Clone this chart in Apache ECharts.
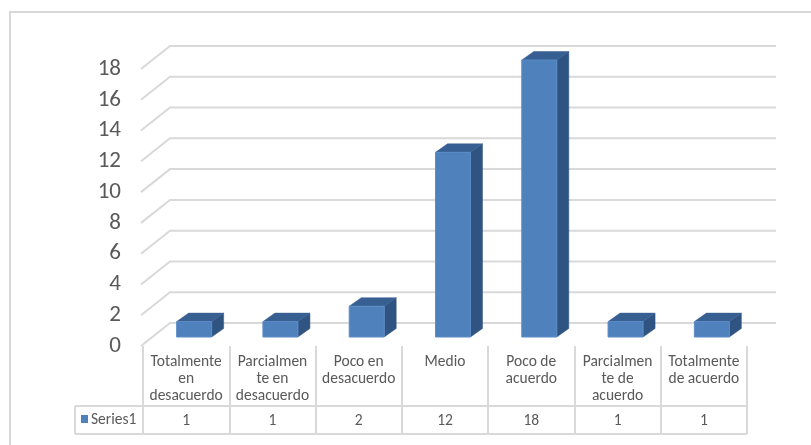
<!DOCTYPE html>
<html>
<head>
<meta charset="utf-8">
<script src="https://cdn.jsdelivr.net/npm/echarts@6/dist/echarts.min.js"></script>
<style>
  html, body { margin: 0; padding: 0; background: #fff; }
  #chart { width: 811px; height: 445px; }
</style>
</head>
<body>
<div id="chart"></div>
<script>
// Survey answers on a 7-point agreement scale
const categories = [
  'Totalmente\nen\ndesacuerdo',
  'Parcialmen\nte en\ndesacuerdo',
  'Poco en\ndesacuerdo',
  'Medio',
  'Poco de\nacuerdo',
  'Parcialmen\nte de\nacuerdo',
  'Totalmente\nde acuerdo'
];
const seriesName = 'Series1';
const values = [1, 1, 2, 12, 18, 1, 1];
const yTicks = [0, 2, 4, 6, 8, 10, 12, 14, 16, 18];

const FONT = 'Carlito, Lato, "Open Sans", sans-serif';
const GRID_COLOR = '#D9D9D9';
const TEXT_COLOR = '#595959';
const TABLE_FONT_SIZE = 15.5;

// perspective offsets: floor depth and bar depth
const WALL_DX = 29, WALL_DY = -23;
const BAR_SHIFT_X = 8, BAR_SHIFT_Y = -9;
const BAR_W = 35, BAR_DX = 12, BAR_DY = -8.5;

const chart = echarts.init(document.getElementById('chart'), null, { renderer: 'canvas' });

// back-wall gridlines with the diagonal running to the front edge
function renderWall(params, api) {
  const cs = params.coordSys;
  const y = api.coord([0, api.value(1)])[1];
  const x0 = cs.x - 2;
  return {
    type: 'polyline',
    shape: { points: [[x0, y], [x0 + WALL_DX, y + WALL_DY], [cs.x + cs.width + WALL_DX, y + WALL_DY]] },
    style: { stroke: GRID_COLOR, lineWidth: 2, fill: null },
    silent: true
  };
}

// 3D-looking columns plus the value row of the data table
function renderBar(params, api) {
  const cs = params.coordSys;
  const idx = api.value(0);
  const top = api.coord([idx, api.value(1)]);
  const base = api.coord([idx, 0]);
  const cx = top[0] + BAR_SHIFT_X;
  const x = cx - BAR_W / 2;
  const yt = top[1] + BAR_SHIFT_Y;
  const yb = base[1] + BAR_SHIFT_Y;
  const children = [
    { type: 'polygon', shape: { points: [[x + BAR_W, yt], [x + BAR_W + BAR_DX, yt + BAR_DY], [x + BAR_W + BAR_DX, yb + BAR_DY], [x + BAR_W, yb]] },
      style: { fill: '#2F5482', stroke: '#2F5482', lineWidth: 0.5 } },
    { type: 'polygon', shape: { points: [[x, yt], [x + BAR_W, yt], [x + BAR_W + BAR_DX, yt + BAR_DY], [x + BAR_DX, yt + BAR_DY]] },
      style: { fill: '#385F92', stroke: '#385F92', lineWidth: 0.5 } },
    { type: 'rect', shape: { x: x, y: yt, width: BAR_W, height: yb - yt },
      style: { fill: '#4F81BD', stroke: '#5B8CC6', lineWidth: 1 } },
    { type: 'text', style: { text: String(api.value(1)), x: base[0], y: base[1] + 75, align: 'center', verticalAlign: 'middle',
      fill: TEXT_COLOR, font: TABLE_FONT_SIZE + 'px ' + FONT } }
  ];
  if (idx === 0) {
    // table frame: row separator, bottom edge and the row header cell with legend key
    const left = cs.x - 68;
    const right = cs.x + cs.width;
    const r1 = base[1] + 60, r2 = base[1] + 88;
    children.push(
      { type: 'line', shape: { x1: left, y1: r1, x2: right, y2: r1 }, style: { stroke: GRID_COLOR, lineWidth: 2 } },
      { type: 'line', shape: { x1: left, y1: r2, x2: right, y2: r2 }, style: { stroke: GRID_COLOR, lineWidth: 2 } },
      { type: 'line', shape: { x1: left, y1: r1, x2: left, y2: r2 }, style: { stroke: GRID_COLOR, lineWidth: 2 } },
      { type: 'rect', shape: { x: left + 6, y: base[1] + 69, width: 7, height: 8 }, style: { fill: '#4F81BD' } },
      { type: 'text', style: { text: seriesName, x: left + 16, y: base[1] + 74, align: 'left', verticalAlign: 'middle',
        fill: TEXT_COLOR, font: TABLE_FONT_SIZE + 'px ' + FONT } }
    );
  }
  return { type: 'group', children: children };
}

chart.setOption({
  animation: false,
  backgroundColor: '#fff',
  textStyle: { fontFamily: FONT },
  grid: { left: 143, right: 64, top: 69, bottom: 99, containLabel: false },
  xAxis: {
    type: 'category',
    data: categories,
    boundaryGap: true,
    axisLine: { show: false },
    axisTick: { show: true, interval: 0, length: 88, lineStyle: { color: GRID_COLOR, width: 2 } },
    axisLabel: { interval: 0, color: TEXT_COLOR, fontSize: TABLE_FONT_SIZE, lineHeight: 17, margin: 8, fontFamily: FONT },
    splitLine: { show: false }
  },
  yAxis: {
    type: 'value',
    min: 0,
    max: 18,
    interval: 2,
    axisLine: { show: false },
    axisTick: { show: false },
    splitLine: { show: false },
    axisLabel: { color: TEXT_COLOR, fontSize: 23, margin: 22, fontFamily: FONT }
  },
  graphic: [{
    type: 'polyline',
    shape: { points: [[10, 445], [10, 12], [811, 12]] },
    style: { stroke: GRID_COLOR, lineWidth: 2, fill: null },
    silent: true
  }],
  series: [
    {
      type: 'custom',
      name: 'wall',
      renderItem: renderWall,
      data: yTicks.map(v => [0, v]),
      encode: { x: 0, y: 1 },
      z: 1,
      silent: true
    },
    {
      type: 'custom',
      name: seriesName,
      renderItem: renderBar,
      data: values.map((v, i) => [i, v]),
      encode: { x: 0, y: 1 },
      clip: false,
      z: 3
    }
  ]
});
</script>
</body>
</html>
